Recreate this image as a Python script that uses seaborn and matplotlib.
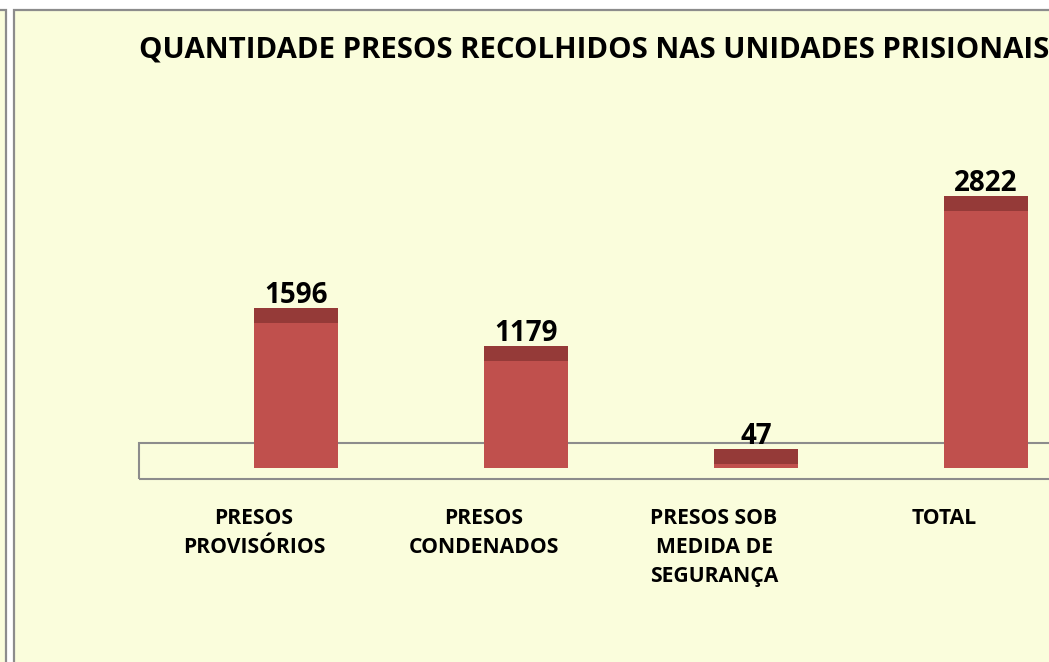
import matplotlib
matplotlib.use("Agg")
import matplotlib.pyplot as plt
import matplotlib.patches as mpatches
import matplotlib.transforms as mtransforms
import seaborn as sns
import pandas as pd

# ---- data ----
categories = ["PRESOS\nPROVISÓRIOS", "PRESOS\nCONDENADOS",
              "PRESOS SOB\nMEDIDA DE\nSEGURANÇA", "TOTAL"]
values = [1596, 1179, 47, 2822]
title = "QUANTIDADE PRESOS RECOLHIDOS NAS UNIDADES PRISIONAIS"

# ---- style ----
BG = "#FAFDDC"
FRONT = "#C0504D"
CAP = "#953A38"
GRAY = "#8C8C8C"
W, H = 1049, 662
FONT = ["Open Sans", "DejaVu Sans"]

sns.set_theme(style="white")
plt.rcParams["font.family"] = FONT

fig = plt.figure(figsize=(W / 100, H / 100), dpi=100)
fig.patch.set_facecolor("white")

def fx(px):
    return px / W

def fy(py):
    return 1 - py / H

# frames (behind everything)
fig.add_artist(mpatches.Rectangle((fx(-10), fy(H + 10)), fx(15.5), fy(10) - fy(H + 10),
                                  transform=fig.transFigure, facecolor=BG,
                                  edgecolor=GRAY, lw=1.6, zorder=-5))
fig.add_artist(mpatches.Rectangle((fx(13.5), fy(H + 10)), fx(W), fy(10) - fy(H + 10),
                                  transform=fig.transFigure, facecolor=BG,
                                  edgecolor=GRAY, lw=1.6, zorder=-5))

# axes: x from px 139 to 1049, y from px 100 to 479
ax_l, ax_r, ax_t, ax_b = 139, 1049, 100, 479
ax = fig.add_axes([fx(ax_l), fy(ax_b), fx(ax_r - ax_l), fy(ax_t) - fy(ax_b)])
ax.set_facecolor("none")
for s in ax.spines.values():
    s.set_visible(False)

bar_w = 84 / 230
ax_h_px = ax_b - ax_t
ylim = (-121, 4041)
cap_units = 15 * (ylim[1] - ylim[0]) / ax_h_px

df = pd.DataFrame({"cat": categories, "val": values})
df["cap_top"] = df["val"] + cap_units

# floor
floor = mpatches.Rectangle((0, 0), 1.2, (479 - 443) / ax_h_px, transform=ax.transAxes,
                           facecolor="none", edgecolor=GRAY, lw=1.5, zorder=0.5,
                           clip_on=False)
ax.add_patch(floor)

sns.barplot(data=df, x="cat", y="cap_top", color=CAP, saturation=1, width=bar_w,
            linewidth=0, ax=ax, zorder=2)
sns.barplot(data=df, x="cat", y="val", color=FRONT, saturation=1, width=bar_w,
            linewidth=0, ax=ax, zorder=3)

ax.set_xlim((ax_l - 296) / 230, (ax_r - 296) / 230)
ax.set_ylim(*ylim)
ax.set_xticks([])
ax.set_yticks([])
ax.set_xlabel("")
ax.set_ylabel("")

# value labels
lbl_tr = mtransforms.offset_copy(ax.transData, fig=fig, x=0, y=20, units="dots")
for i, v in enumerate(values):
    ax.text(i, v, str(v), transform=lbl_tr, ha="center", va="baseline",
            fontsize=20, fontweight="bold", color="black", zorder=5)

# category labels (centred at the bars' left edge, as in the 3D projection)
cat_tr = mtransforms.blended_transform_factory(ax.transData, fig.transFigure)
for i, c in enumerate(categories):
    ax.text(i - bar_w / 2, fy(508), c, transform=cat_tr, ha="center", va="top",
            fontsize=15.2, fontweight="bold", color="black", linespacing=1.5,
            multialignment="center", clip_on=False)

fig.text(fx(139), fy(58), title, ha="left", va="baseline", fontsize=21.2,
         fontweight="bold", color="black")

fig.savefig("out.png", dpi=100, facecolor=fig.get_facecolor())
